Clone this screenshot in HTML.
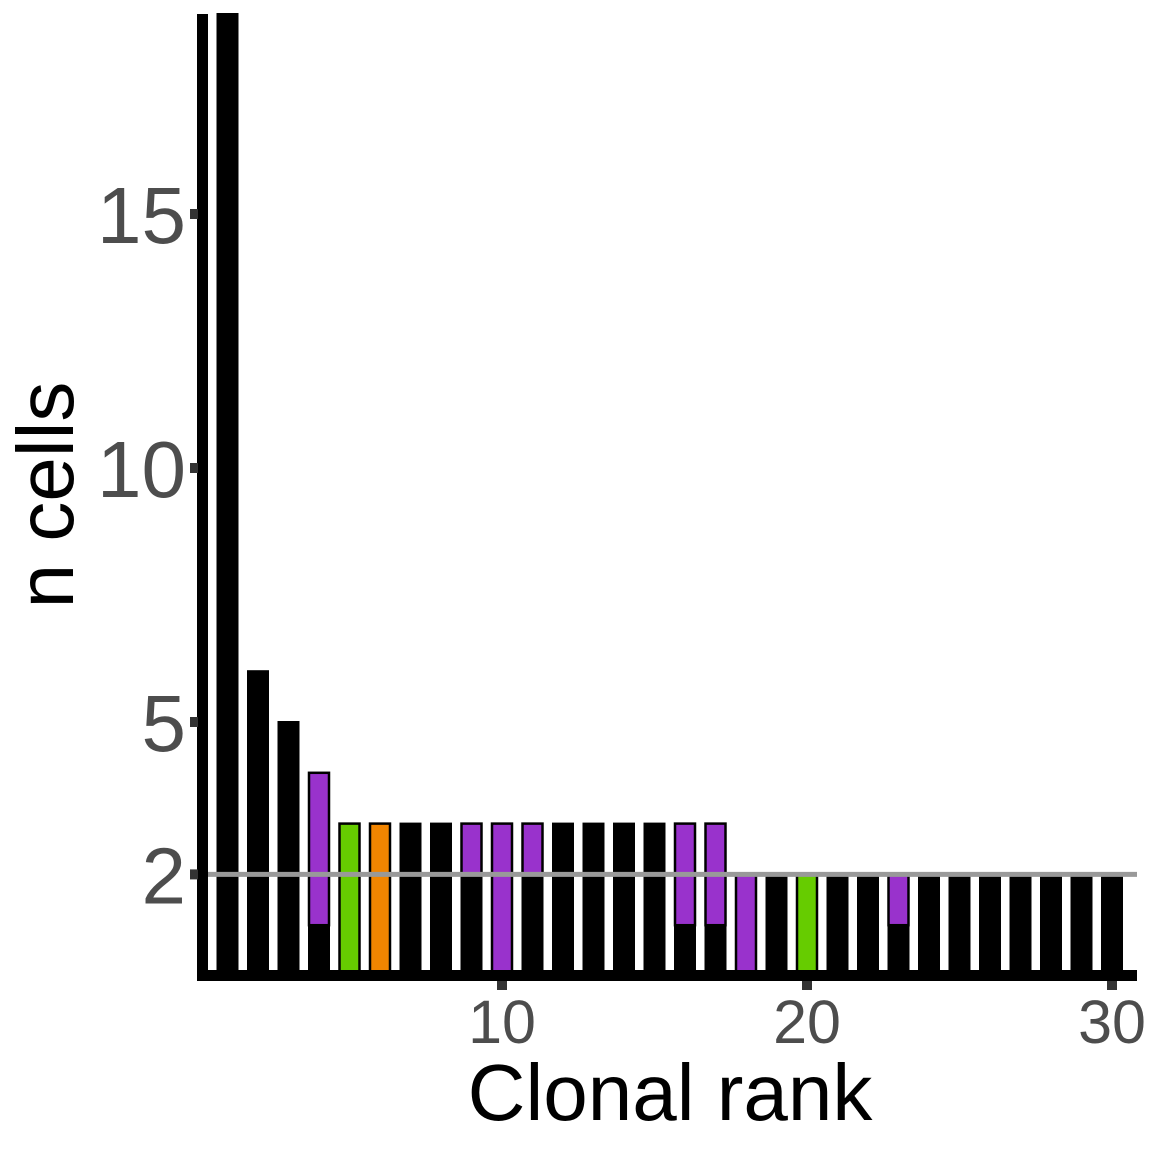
<!DOCTYPE html>
<html><head><meta charset="utf-8"><style>
html,body{margin:0;padding:0;background:#fff;width:1152px;height:1152px;overflow:hidden}
text{font-family:"Liberation Sans",Arial,sans-serif}
</style></head><body>
<svg id="chart" width="1152" height="1152" viewBox="0 0 1152 1152" xmlns="http://www.w3.org/2000/svg"></svg>
<script>
const ranks=[1,2,3,4,5,6,7,8,9,10,11,12,13,14,15,16,17,18,19,20,21,22,23,24,25,26,27,28,29,30];
const blackVals=[20,6,5,1,0,0,3,3,2,0,2,3,3,3,3,1,1,0,2,0,2,2,1,2,2,2,2,2,2,2];
const colorVals=[0,0,0,3,3,3,0,0,1,3,1,0,0,0,0,2,2,2,0,2,0,0,1,0,0,0,0,0,0,0];
const colorNames=["","","","purple","green","orange","","","purple","purple","purple","","","","","purple","purple","purple","","green","","","purple","","","","","","",""];
const yTicks=[2,5,10,15];
const xTicks=[10,20,30];
const threshold=2;
const palette={purple:"#9932CC",green:"#66CC00",orange:"#F28500"};
const NS="http://www.w3.org/2000/svg";
const svg=document.getElementById('chart');
const plotTop=14,zeroY=976,unit=50.8;
const xs=r=>227.5+(r-1)*30.5;
const ys=v=>Math.max(plotTop,zeroY-v*unit);
function mk(t,a){const e=document.createElementNS(NS,t);for(const k in a)e.setAttribute(k,a[k]);svg.appendChild(e);return e;}
const bw=20;
ranks.forEach((r,i)=>{
  const b=blackVals[i],c=colorVals[i];
  if(b>0){const e=mk('rect',{x:xs(r)-bw/2,y:ys(b),width:bw,height:ys(0)-ys(b),fill:'#000',stroke:'#000','stroke-width':2});
    
    }
  if(c>0){const e=mk('rect',{x:xs(r)-bw/2,y:ys(b+c),width:bw,height:ys(b)-ys(b+c),fill:palette[colorNames[i]],stroke:'#000','stroke-width':2.5});
    
    }
});
let l=mk('line',{x1:200,x2:1137,y1:ys(threshold),y2:ys(threshold),stroke:'#999',"stroke-width":5});


let ya=mk('rect',{x:197,y:plotTop,width:11,height:981-plotTop,fill:'#000'});


let xa=mk('rect',{x:202,y:970,width:935,height:11,fill:'#000'});


yTicks.forEach(v=>{
  const t=mk('rect',{x:190,y:ys(v)-5,width:8,height:10,fill:'#333'});
  
  
  const s=mk('text',{x:186,y:ys(v)+29,'text-anchor':'end','font-size':80,fill:'#4d4d4d'});s.textContent=v;
  
  
});
xTicks.forEach(v=>{
  const t=mk('rect',{x:xs(v)-5,y:981,width:10,height:9,fill:'#333'});
  
  
  const s=mk('text',{x:xs(v),y:1043,'text-anchor':'middle','font-size':61,fill:'#4d4d4d'});s.textContent=v;
  
  
});
let xt=mk('text',{x:670,y:1120,'text-anchor':'middle','font-size':80,fill:'#000'});xt.textContent='Clonal rank';


let yt=mk('text',{x:0,y:0,'text-anchor':'middle','font-size':80,fill:'#000',transform:'translate(73,495) rotate(-90)'});yt.textContent='n cells';


</script>
</body></html>
